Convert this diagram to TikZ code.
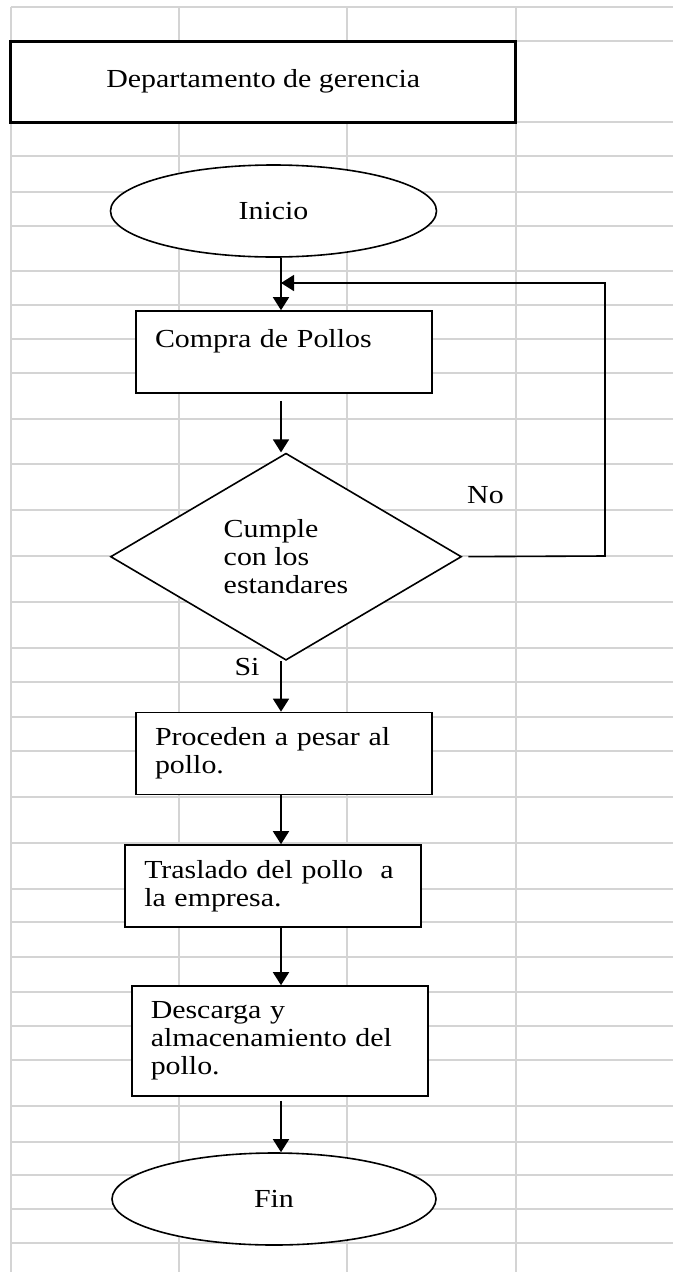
\documentclass[tikz,border=0pt]{standalone}
\usepackage{fontspec}
\setmainfont{Liberation Serif}[FakeStretch=1.15]
\usepackage{tikz}
\usetikzlibrary{shapes.geometric, arrows.meta, positioning, calc}
\definecolor{gridgray}{RGB}{212,212,212}
\tikzstyle{gridline} = [draw=gridgray, line width=2pt]
\tikzstyle{titlebox} = [rectangle, draw=black, fill=white, line width=3pt, minimum width=505pt,
                        minimum height=81pt, text centered]
\tikzstyle{terminal} = [ellipse, draw=black, fill=white, line width=1.6pt, minimum width=326pt,
                        minimum height=92pt, inner sep=0pt]
\tikzstyle{processbox} = [rectangle, draw=black, fill=white, line width=1.6pt, minimum width=296pt,
                          minimum height=82pt, inner xsep=19pt, text width=258pt, align=left]
\tikzstyle{decision} = [diamond, draw=black, fill=white, line width=1.6pt, minimum width=351pt,
                        minimum height=207pt, inner sep=0pt, aspect=1.7, align=left]
\tikzstyle{loopline} = [line width=1.6pt, black]
\tikzstyle{arrow} = [line width=1.6pt, -{Triangle[length=13pt, width=16pt]}, black]

\begin{document}
\begin{tikzpicture}[x=1pt, y=-1pt, every node/.style={font=\fontsize{26}{28}\selectfont}]
    \useasboundingbox (0,0) rectangle (673,1272);

    % Spreadsheet grid
    \foreach \gx in {10.5,179,347,516}
        \draw[gridline] (\gx,7) -- (\gx,1272);
    \foreach \gy in {7,41,122,156,192,226,271,305,339,373,419,464,510,556,602,648,682,717,751,
                     797,843,889,922,957,992,1026,1060,1106,1142,1175,1209,1243}
        \draw[gridline] (10.5,\gy) -- (673,\gy);

    % Header
    \node[titlebox] (gerencia) at (263.25,81.5) {Departamento de gerencia};

    % Main column
    \coordinate (spine) at (281,0);
    \node[terminal] (inicio) at (273.5,211) {Inicio};
    \node[processbox] (compra) at (284,352) {Compra de Pollos\\ \mbox{}};
    \node[decision] (estandar) at (286,556.7) {Cumple\\con los\\estandares};
    \node[processbox] (pesar) at (284,753.5) {Proceden a pesar al\\pollo.};
    \node[processbox] (traslado) at (273.25,886) {Traslado del pollo\ \ a\\la empresa.};
    \node[processbox, minimum height=110pt] (descarga) at (279.75,1041) {Descarga y\\almacenamiento del\\pollo.};
    \node[terminal, minimum width=324pt] (fin) at (274,1199) {Fin};

    % Branch labels
    \node (si) at (247,667) {Si};
    \node (no) at (485.5,495) {No};

    % Loop corners
    \coordinate (loopturn) at (605,556);
    \coordinate (join) at (281,283);

    % Arrows down the column
    \draw[arrow] (inicio.south -| spine) -- (compra.north -| spine);
    \draw[arrow, shorten <=7pt] (compra.south -| spine) -- (estandar.north -| spine);
    \draw[arrow] (estandar.south -| spine) -- (pesar.north -| spine);
    \draw[arrow] (pesar.south -| spine) -- (traslado.north -| spine);
    \draw[arrow] (traslado.south -| spine) -- (descarga.north -| spine);
    \draw[arrow, shorten <=4pt] (descarga.south -| spine) -- (fin.north -| spine);

    % No: back to the purchase
    \draw[arrow, shorten <=6pt] (estandar.east) -- (loopturn) |- (join);
\end{tikzpicture}
\end{document}
